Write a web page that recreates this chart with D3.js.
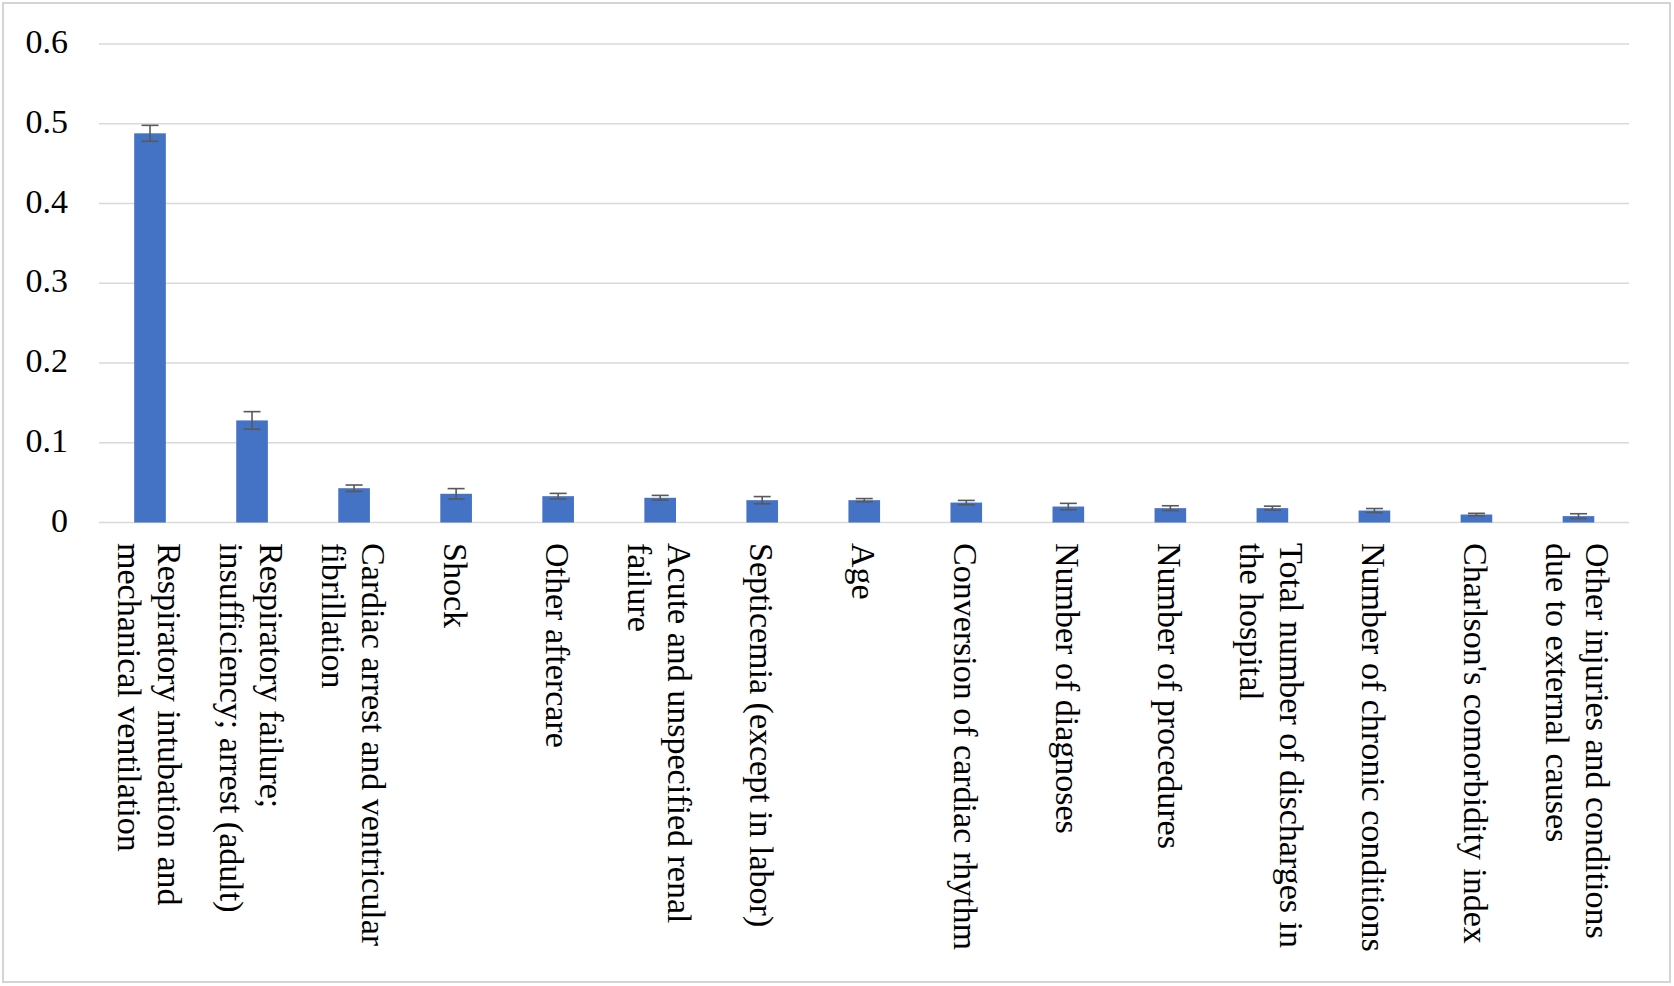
<!DOCTYPE html>
<html>
<head>
<meta charset="utf-8">
<script src="https://cdn.jsdelivr.net/npm/d3@7"></script>
<style>
  body { margin: 0; background: #fff; }
  svg text { font-family: "Liberation Serif", "Times New Roman", serif; fill: #000; }
</style>
</head>
<body>
<div class="vis"></div>
<script>
// each category label split into the lines shown in the chart
const categories = [
  ["Respiratory intubation and", "mechanical ventilation"],
  ["Respiratory failure;", "insufficiency; arrest (adult)"],
  ["Cardiac arrest and ventricular", "fibrillation"],
  ["Shock"],
  ["Other aftercare"],
  ["Acute and unspecified renal", "failure"],
  ["Septicemia (except in labor)"],
  ["Age"],
  ["Conversion of cardiac rhythm"],
  ["Number of diagnoses"],
  ["Number of procedures"],
  ["Total number of discharges in", "the hospital"],
  ["Number of chronic conditions"],
  ["Charlson's comorbidity index"],
  ["Other injuries and conditions", "due to external causes"]
];
const values = [0.488, 0.128, 0.043, 0.036, 0.033, 0.031, 0.028, 0.028, 0.025, 0.020, 0.018, 0.018, 0.015, 0.010, 0.008];
const errors = [0.010, 0.011, 0.004, 0.0065, 0.0035, 0.003, 0.0045, 0.002, 0.0027, 0.004, 0.003, 0.0025, 0.0025, 0.0015, 0.003];
const yTicks = [0, 0.1, 0.2, 0.3, 0.4, 0.5, 0.6];

const W = 1674, H = 986;
const margin = { top: 44, right: 45, bottom: 463.5, left: 99 };

const svg = d3.select(".vis")
  .append("svg")
  .attr("width", W)
  .attr("height", H);

// outer frame
svg.append("rect")
  .attr("x", 3).attr("y", 3)
  .attr("width", 1667).attr("height", 979)
  .attr("fill", "none")
  .attr("stroke", "#d4d4d4")
  .attr("stroke-width", 2);

const x = d3.scaleBand()
  .domain(d3.range(categories.length))
  .range([margin.left, W - margin.right - 0.5 + 1])
  .paddingInner(0.69)
  .paddingOuter(0.345);

const y = d3.scaleLinear()
  .domain([0, 0.6])
  .range([H - margin.bottom, margin.top]);

// gridlines
svg.append("g")
  .selectAll("line")
  .data(yTicks)
  .join("line")
  .attr("x1", margin.left)
  .attr("x2", W - margin.right)
  .attr("y1", d => y(d))
  .attr("y2", d => y(d))
  .attr("stroke", "#d9d9d9")
  .attr("stroke-width", 1.4);

// y tick labels
svg.append("g")
  .selectAll("text")
  .data(yTicks)
  .join("text")
  .attr("x", 68)
  .attr("y", d => y(d) + 9)
  .attr("text-anchor", "end")
  .style("font-size", "34px")
  .text(d => d === 0 ? "0" : d3.format(".1f")(d));

// bars
svg.append("g")
  .selectAll("rect")
  .data(values)
  .join("rect")
  .attr("x", (d, i) => x(i))
  .attr("y", d => y(d))
  .attr("width", x.bandwidth())
  .attr("height", d => y(0) - y(d))
  .attr("fill", "#4472c4");

// error bars
const eb = svg.append("g")
  .attr("stroke", "#595959")
  .attr("stroke-width", 1.6);
values.forEach((v, i) => {
  const cx = x(i) + x.bandwidth() / 2;
  const lo = y(v - errors[i]), hi = y(v + errors[i]);
  eb.append("line").attr("x1", cx).attr("x2", cx).attr("y1", lo).attr("y2", hi);
  eb.append("line").attr("x1", cx - 8.5).attr("x2", cx + 8.5).attr("y1", hi).attr("y2", hi);
  eb.append("line").attr("x1", cx - 8.5).attr("x2", cx + 8.5).attr("y1", lo).attr("y2", lo);
});

// rotated category labels
const lineGap = 40;
const labels = svg.append("g")
  .selectAll("g")
  .data(categories)
  .join("g")
  .attr("transform", (d, i) =>
    "translate(" + (x(i) + x.bandwidth() / 2) + "," + 543 + ") rotate(90)");

labels.each(function (lines) {
  const n = lines.length;
  d3.select(this)
    .selectAll("text")
    .data(lines)
    .join("text")
    .attr("x", 0)
    .attr("y", (d, k) => 12.5 + (k - (n - 1) / 2) * lineGap)
    .style("font-size", "34px")
    .text(d => d);
});
</script>
</body>
</html>
